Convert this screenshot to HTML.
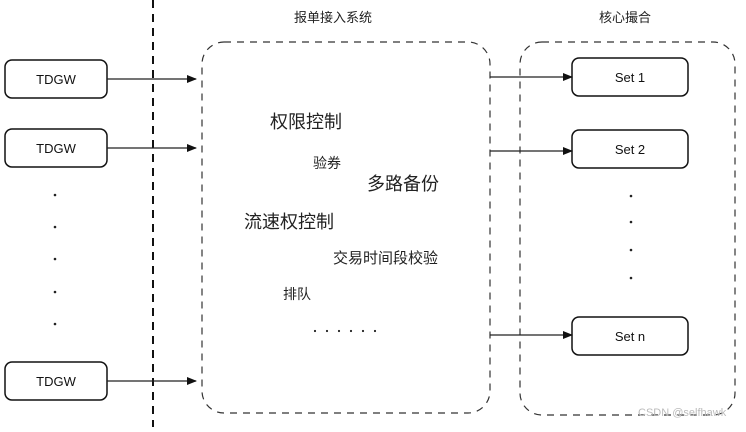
<!DOCTYPE html>
<html><head><meta charset="utf-8"><style>
body{margin:0;background:#fff;}
svg text{font-family:"Liberation Sans","Noto Sans CJK SC",sans-serif;fill:#222;}
.h{font-family:"Liberation Sans",sans-serif;font-size:13px;fill:#111}
</style></head><body>
<svg width="746" height="427" viewBox="0 0 746 427" xmlns="http://www.w3.org/2000/svg">
<defs><marker id="a" markerWidth="10" markerHeight="8" refX="9" refY="4" orient="auto" markerUnits="userSpaceOnUse"><path d="M0,0 L10,4 L0,8 Z" fill="#111"/></marker></defs>
<line x1="153" y1="0" x2="153" y2="427" stroke="#111" stroke-width="2" stroke-dasharray="8,6"/>
<rect x="202" y="42" width="288" height="371" rx="22" fill="none" stroke="#333" stroke-width="1.2" stroke-dasharray="7,6"/>
<rect x="520" y="42" width="215" height="373" rx="22" fill="none" stroke="#333" stroke-width="1.2" stroke-dasharray="7,6"/>
<text x="333" y="22" font-size="13" text-anchor="middle">报单接入系统</text>
<text x="625" y="22" font-size="13" text-anchor="middle">核心撮合</text>
<g fill="#fff" stroke="#111" stroke-width="1.5">
<rect x="5" y="60" width="102" height="38" rx="7"/>
<rect x="5" y="129" width="102" height="38" rx="7"/>
<rect x="5" y="362" width="102" height="38" rx="7"/>
<rect x="572" y="58" width="116" height="38" rx="7"/>
<rect x="572" y="130" width="116" height="38" rx="7"/>
<rect x="572" y="317" width="116" height="38" rx="7"/>
</g>
<text class="h" x="56" y="84" text-anchor="middle">TDGW</text>
<text class="h" x="56" y="153" text-anchor="middle">TDGW</text>
<text class="h" x="56" y="386" text-anchor="middle">TDGW</text>
<text class="h" x="630" y="82" text-anchor="middle">Set 1</text>
<text class="h" x="630" y="154" text-anchor="middle">Set 2</text>
<text class="h" x="630" y="341" text-anchor="middle">Set n</text>
<g stroke="#222" stroke-width="1.3" marker-end="url(#a)">
<line x1="107" y1="79" x2="196" y2="79"/>
<line x1="107" y1="148" x2="196" y2="148"/>
<line x1="107" y1="381" x2="196" y2="381"/>
<line x1="490" y1="77" x2="572" y2="77"/>
<line x1="490" y1="151" x2="572" y2="151"/>
<line x1="490" y1="335" x2="572" y2="335"/>
</g>
<g fill="#222">
<circle cx="55" cy="195" r="1.3"/><circle cx="55" cy="227" r="1.3"/><circle cx="55" cy="259" r="1.3"/><circle cx="55" cy="292" r="1.3"/><circle cx="55" cy="324" r="1.3"/>
<circle cx="631" cy="196" r="1.3"/><circle cx="631" cy="222" r="1.3"/><circle cx="631" cy="250" r="1.3"/><circle cx="631" cy="278" r="1.3"/>
<circle cx="315" cy="331" r="1.1"/><circle cx="327" cy="331" r="1.1"/><circle cx="339" cy="331" r="1.1"/><circle cx="351" cy="331" r="1.1"/><circle cx="363" cy="331" r="1.1"/><circle cx="375" cy="331" r="1.1"/>
</g>
<text x="270" y="128" font-size="18">权限控制</text>
<text x="313" y="168" font-size="14">验券</text>
<text x="367" y="190" font-size="18">多路备份</text>
<text x="244" y="228" font-size="18">流速权控制</text>
<text x="333" y="263" font-size="15">交易时间段校验</text>
<text x="283" y="299" font-size="14">排队</text>
<text x="638" y="416" font-size="11" style="fill:#bbb">CSDN @selfhawk</text>
</svg>
</body></html>
